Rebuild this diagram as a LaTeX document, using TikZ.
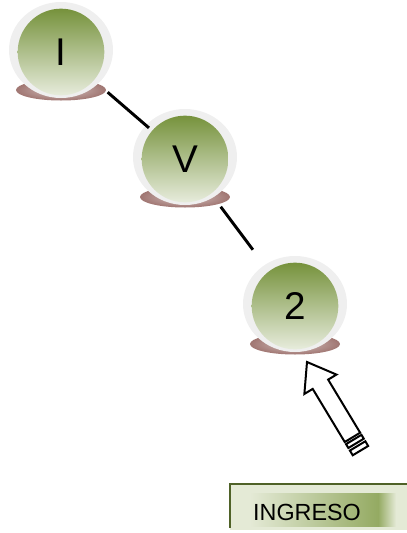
\documentclass[tikz,border=0pt]{standalone}
\usepackage{fontspec}
\setmainfont{Liberation Sans}
\definecolor{olivetop}{RGB}{118,146,60}
\definecolor{olivebot}{RGB}{231,236,220}
\definecolor{rimgray}{RGB}{239,239,239}
\definecolor{shadowrose}{RGB}{160,118,114}
\definecolor{boxline}{RGB}{79,98,40}
\definecolor{boxfill}{RGB}{228,234,214}
\definecolor{boxglow}{RGB}{148,170,98}
\tikzset{
	ball/.style={circle, minimum size=65pt, inner sep=0pt, top color=olivetop, bottom color=olivebot, font=\fontsize{29}{29}\selectfont},
	link/.style={line width=2.2pt, black},
}
\def\ballbase(#1,#2){\shade[inner color=shadowrose!45!white, outer color=shadowrose] (#1,#2+40) ellipse [x radius=45, y radius=10.5]; \fill[rimgray] (#1,#2) ellipse [x radius=52, y radius=48];}

\begin{document}
\begin{tikzpicture}[x=0.75pt, y=-0.75pt]
			%%%%% START %%%%%
			\useasboundingbox (0,0) rectangle (407,533);
			
			\ballbase(61,50)
			\node[ball] (n1) at (61,52) {I};
			
			\ballbase(185,157)
			\node[ball] (n2) at (185,159) {V};
			
			\ballbase(295,304)
			\node[ball] (n3) at (295,306) {2};
			
			\draw[link, shorten <=13.5pt, shorten >=3pt] (n1) -- (n2);
			\draw[link, shorten <=12pt, shorten >=20pt] (n2) -- (n3);
			
			\begin{scope}[shift={(307,362)}, rotate=-58.9, x=0.75pt, y=0.75pt, line width=1.5pt]
				\draw[fill=white] (0,0) -- (26,18.75) -- (26,9) -- (88,9) -- (88,-9) -- (26,-9) -- (26,-18.75) -- cycle;
				\draw (90.5,-9) rectangle (95,9);
				\draw (98,-9) rectangle (103.5,9);
			\end{scope}
			
			\fill[boxfill] (230,484) rectangle (407,530);
			\shade[left color=boxfill, right color=boxglow] (250,493) rectangle (378,526);
			\shade[left color=boxglow, right color=boxfill] (378,493) rectangle (396,526);
			\draw[boxline, line width=1.8pt] (230,528) -- (230,484) -- (407,484);
			\node (ingreso) at (307,512) {\fontsize{17.5}{17.5}\selectfont INGRESO};
			
			%%%%% END %%%%%
\end{tikzpicture}
\end{document}
